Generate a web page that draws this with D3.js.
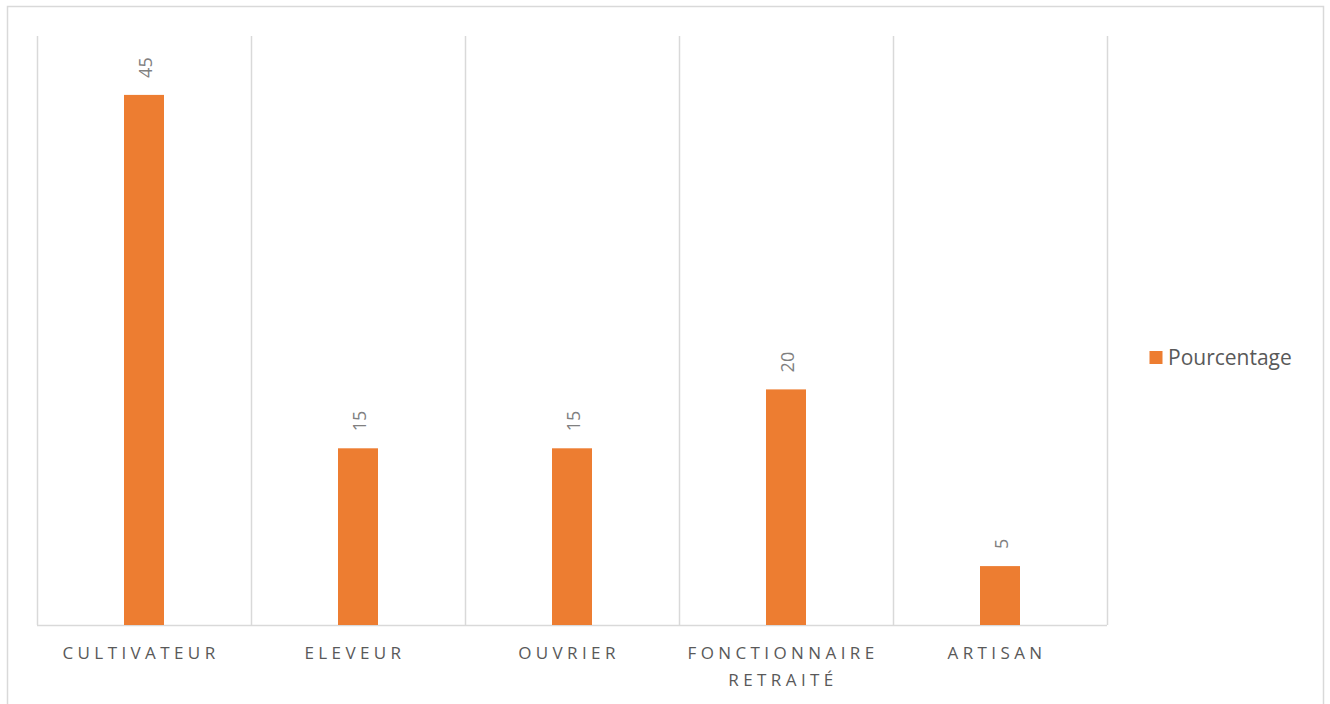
<!DOCTYPE html>
<html lang="en">
<head>
<meta charset="utf-8">
<script src="https://cdn.jsdelivr.net/npm/d3@7/dist/d3.min.js"></script>
<style type="text/css">
body { margin: 0; background: #fff; }
text { font-family: "Open Sans", "Noto Sans", sans-serif; }
</style>
</head>
<body>
<script type="text/javascript">

// data
var categories = [["CULTIVATEUR"], ["ELEVEUR"], ["OUVRIER"], ["FONCTIONNAIRE", "RETRAITÉ"], ["ARTISAN"]];
var values = [45, 15, 15, 20, 5];
var seriesName = "Pourcentage";

var width = 1330, height = 704;
var plot = {left: 37, right: 1107, top: 36, bottom: 625};

var svg = d3.select("body").append("svg")
	.attr("width", width)
	.attr("height", height);

// outer chart border
svg.append("rect")
	.attr("x", 7.5).attr("y", 6.5)
	.attr("width", 1316).attr("height", 710)
	.style("fill", "none")
	.style("stroke", "#d9d9d9")
	.style("stroke-width", 1.5);

var x = d3.scaleBand()
	.domain(d3.range(values.length))
	.range([plot.left, plot.right]);

var y = d3.scaleLinear()
	.domain([0, 50])
	.range([plot.bottom, plot.top]);

// vertical separators between categories
svg.selectAll("line.sep")
	.data(d3.range(values.length + 1))
	.enter()
	.append("line")
	.attr("class", "sep")
	.attr("x1", function(i) { return Math.round(plot.left + i * x.bandwidth()) + 0.5; })
	.attr("x2", function(i) { return Math.round(plot.left + i * x.bandwidth()) + 0.5; })
	.attr("y1", plot.top)
	.attr("y2", plot.bottom)
	.style("stroke", "#d9d9d9")
	.style("stroke-width", 1.5);

// baseline
svg.append("line")
	.attr("x1", plot.left).attr("x2", plot.right)
	.attr("y1", plot.bottom + 0.5).attr("y2", plot.bottom + 0.5)
	.style("stroke", "#d9d9d9")
	.style("stroke-width", 1.5);

var barW = 40;
svg.selectAll("rect.bar")
	.data(values)
	.enter()
	.append("rect")
	.attr("class", "bar")
	.attr("x", function(d, i) { return x(i) + x.bandwidth() / 2 - barW / 2; })
	.attr("y", function(d) { return y(d); })
	.attr("width", barW)
	.attr("height", function(d) { return plot.bottom - y(d); })
	.style("fill", "#ed7d31");

// value labels, rotated
svg.selectAll("text.val")
	.data(values)
	.enter()
	.append("text")
	.attr("class", "val")
	.attr("transform", function(d, i) {
		return "translate(" + (x(i) + x.bandwidth() / 2 + 8) + "," + (y(d) - 17) + ") rotate(-90)";
	})
	.attr("text-anchor", "start")
	.style("font-size", "18px")
	.style("fill", "#808080")
	.text(function(d) { return d; });

// category labels
var cat = svg.selectAll("text.cat")
	.data(categories)
	.enter()
	.append("text")
	.attr("class", "cat")
	.attr("text-anchor", "middle")
	.style("font-size", "17px")
	.style("letter-spacing", "4.4px")
	.style("fill", "#595959");

cat.selectAll("tspan")
	.data(function(d, i) { return d.map(function(t) { return {t: t, i: i}; }); })
	.enter()
	.append("tspan")
	.attr("x", function(d) { return x(d.i) + x.bandwidth() / 2 - 3; })
	.attr("y", function(d, j) { return 659 + j * 27; })
	.text(function(d) { return d.t; });

// legend
svg.append("rect")
	.attr("x", 1149.5).attr("y", 351)
	.attr("width", 13).attr("height", 13)
	.style("fill", "#ed7d31");
svg.append("text")
	.attr("x", 1168).attr("y", 365)
	.style("font-size", "21px")
	.style("fill", "#595959")
	.text(seriesName);

</script>
</body>
</html>
